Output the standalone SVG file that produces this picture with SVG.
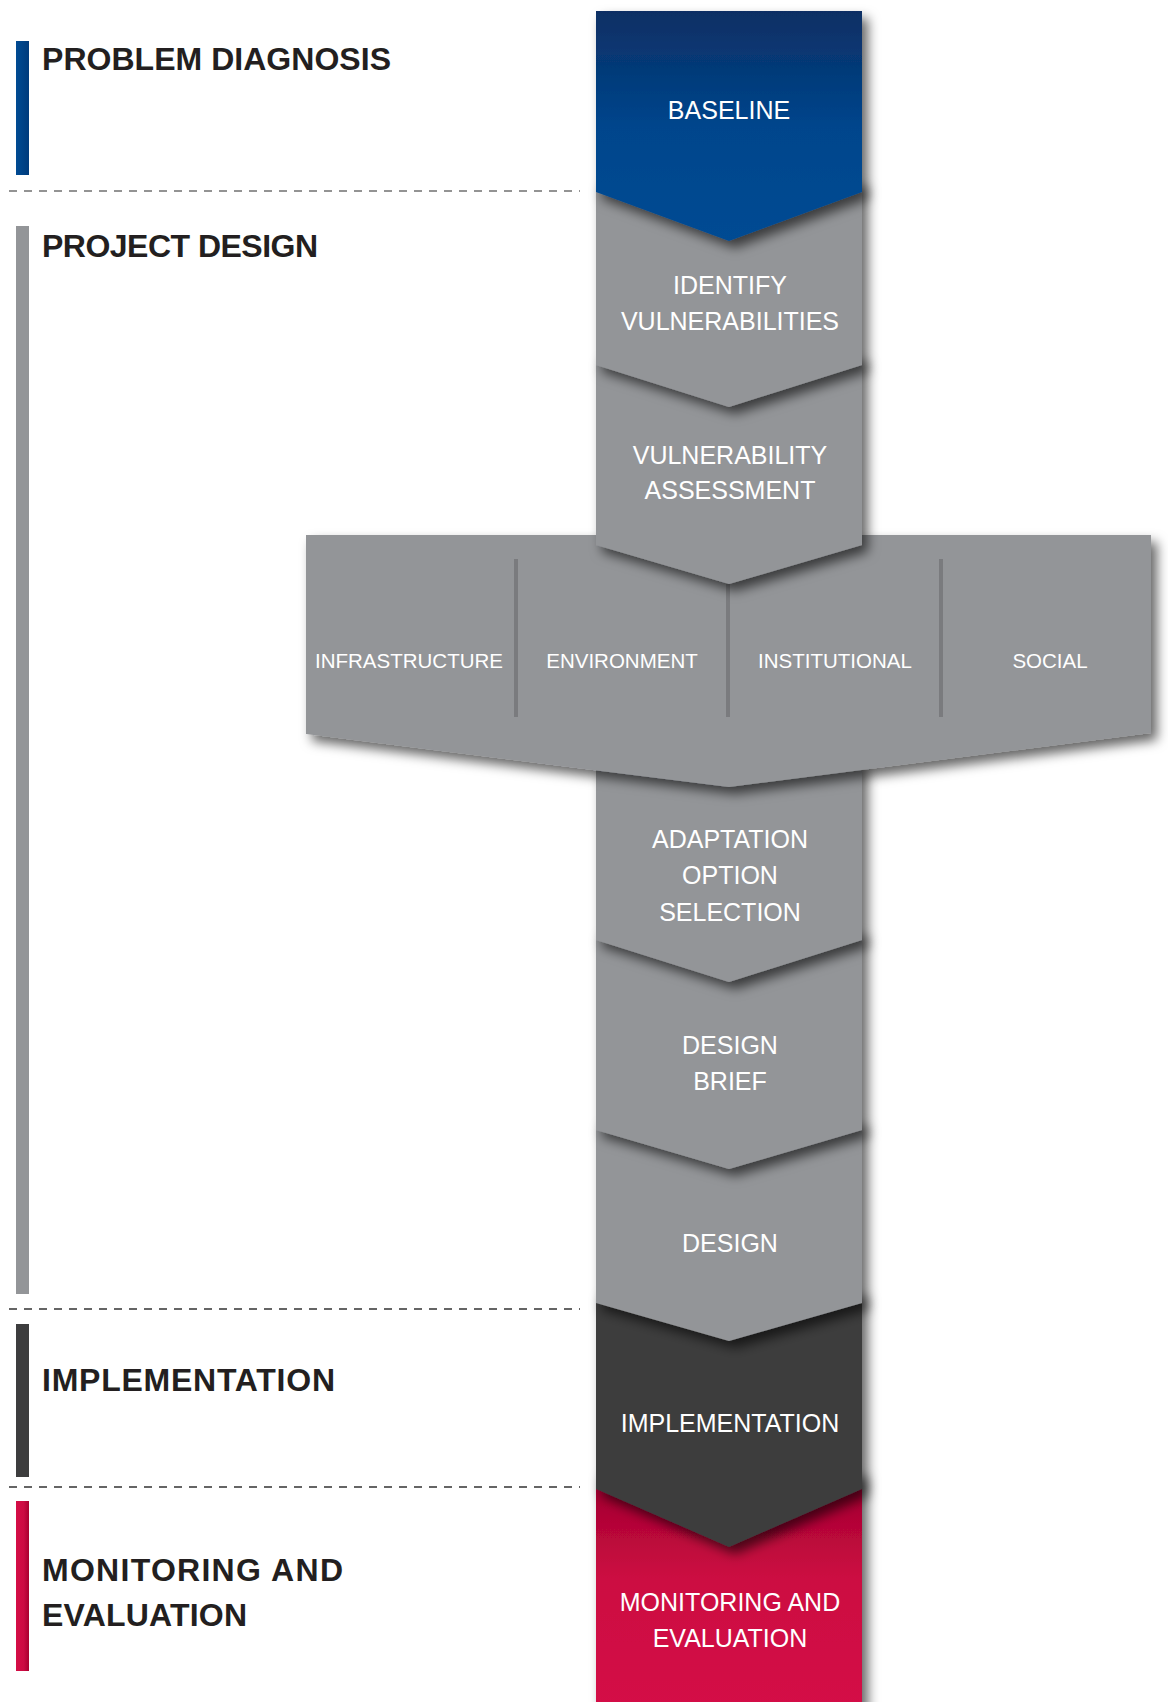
<svg xmlns="http://www.w3.org/2000/svg" width="1168" height="1702" viewBox="0 0 1168 1702">
  <defs>
    <linearGradient id="gBlue" x1="0" y1="0" x2="0" y2="1">
      <stop offset="0" stop-color="#0b2f64"/>
      <stop offset="0.5" stop-color="#00458c"/>
      <stop offset="1" stop-color="#004b93"/>
    </linearGradient>
    <linearGradient id="gRed" x1="0" y1="0" x2="0" y2="1">
      <stop offset="0" stop-color="#9c002c"/>
      <stop offset="0.45" stop-color="#cc0b42"/>
      <stop offset="1" stop-color="#d40d46"/>
    </linearGradient>
    <linearGradient id="gBarBlue" x1="0" y1="0" x2="1" y2="0">
      <stop offset="0" stop-color="#004b93"/>
      <stop offset="1" stop-color="#003b7c"/>
    </linearGradient>
    <linearGradient id="gBarRed" x1="0" y1="0" x2="1" y2="0">
      <stop offset="0" stop-color="#d40d46"/>
      <stop offset="0.6" stop-color="#cc0b42"/>
      <stop offset="1" stop-color="#a8002f"/>
    </linearGradient>
    <filter id="sh" x="-10%" y="-10%" width="130%" height="140%">
      <feDropShadow dx="6" dy="7" stdDeviation="6" flood-color="#000" flood-opacity="0.6"/>
    </filter>
  </defs>
  <style>
    .head { font-family: "Liberation Sans", Arial, sans-serif; font-weight: bold; font-size: 32px; fill: #231f20; }
    .lbl { font-family: "Liberation Sans", Arial, sans-serif; font-size: 25px; fill: #ffffff; text-anchor: middle; }
    .sub { font-family: "Liberation Sans", Arial, sans-serif; font-size: 20.5px; fill: #ffffff; text-anchor: middle; }
    .gray { fill: #939598; }
    .dark { fill: #3d3d3e; }
    .sep { stroke: #7a7b7e; stroke-width: 4; }
    .dash1 { stroke: #707070; stroke-width: 1.5; stroke-dasharray: 8 7; fill: none; }
    .dash2 { stroke: #333333; stroke-width: 1.5; stroke-dasharray: 8 7; fill: none; }
  </style>
  <rect x="0" y="0" width="1168" height="1702" fill="#ffffff"/>

  <!-- Phase headings -->
  <g id="phase-problem-diagnosis">
    <rect x="16" y="41" width="13" height="134" fill="url(#gBarBlue)"/>
    <text class="head" x="42" y="70" textLength="349">PROBLEM DIAGNOSIS</text>
  </g>
  <g id="phase-project-design">
    <rect x="16" y="226" width="13" height="1068" fill="#939598"/>
    <text class="head" x="42" y="257" textLength="276">PROJECT DESIGN</text>
  </g>
  <g id="phase-implementation">
    <rect x="16" y="1324" width="13" height="153" fill="#3d3d3e"/>
    <text class="head" x="42" y="1391" textLength="293">IMPLEMENTATION</text>
  </g>
  <g id="phase-monitoring">
    <rect x="16" y="1501" width="13" height="170" fill="url(#gBarRed)"/>
    <text class="head" x="42" y="1581" textLength="301">MONITORING AND</text>
    <text class="head" x="42" y="1626" textLength="205">EVALUATION</text>
  </g>

  <g id="separators">
    <line class="dash1" x1="9" y1="191" x2="580" y2="191"/>
    <line class="dash2" x1="9" y1="1309" x2="580" y2="1309"/>
    <line class="dash2" x1="9" y1="1487" x2="580" y2="1487"/>
  </g>

  <!-- Column blocks, drawn bottom-up so upper chevrons overlap -->
  <g id="node-monitoring">
    <rect x="596" y="1470" width="266" height="240" fill="url(#gRed)" filter="url(#sh)"/>
    <text class="lbl" x="730" y="1611">MONITORING AND</text>
    <text class="lbl" x="730" y="1647">EVALUATION</text>
  </g>
  <g id="node-implementation">
    <polygon class="dark" points="596,1290 862,1290 862,1489 729,1547 596,1489" filter="url(#sh)"/>
    <text class="lbl" x="730" y="1432">IMPLEMENTATION</text>
  </g>
  <g id="node-design">
    <polygon class="gray" points="596,1120 862,1120 862,1303 729,1341 596,1303" filter="url(#sh)"/>
    <text class="lbl" x="730" y="1252">DESIGN</text>
  </g>
  <g id="node-design-brief">
    <polygon class="gray" points="596,930 862,930 862,1130 729,1169 596,1130" filter="url(#sh)"/>
    <text class="lbl" x="730" y="1054">DESIGN</text>
    <text class="lbl" x="730" y="1090">BRIEF</text>
  </g>
  <g id="node-adaptation">
    <polygon class="gray" points="596,760 862,760 862,940 729,982 596,940" filter="url(#sh)"/>
    <text class="lbl" x="730" y="848">ADAPTATION</text>
    <text class="lbl" x="730" y="884">OPTION</text>
    <text class="lbl" x="730" y="921">SELECTION</text>
  </g>
  <g id="node-categories">
    <polygon class="gray" points="306,535 1151,535 1151,733 729,787 306,734" filter="url(#sh)"/>
    <line class="sep" x1="516" y1="559" x2="516" y2="717"/>
    <line class="sep" x1="728" y1="575" x2="728" y2="717"/>
    <line class="sep" x1="941" y1="559" x2="941" y2="717"/>
    <text class="sub" x="409" y="668">INFRASTRUCTURE</text>
    <text class="sub" x="622" y="668">ENVIRONMENT</text>
    <text class="sub" x="835" y="668">INSTITUTIONAL</text>
    <text class="sub" x="1050" y="668">SOCIAL</text>
  </g>
  <g id="node-vulnerability-assessment">
    <polygon class="gray" points="596,355 862,355 862,545 729,584 596,545" filter="url(#sh)"/>
    <text class="lbl" x="730" y="464">VULNERABILITY</text>
    <text class="lbl" x="730" y="499">ASSESSMENT</text>
  </g>
  <g id="node-identify">
    <polygon class="gray" points="596,180 862,180 862,365 729,407 596,365" filter="url(#sh)"/>
    <text class="lbl" x="730" y="294">IDENTIFY</text>
    <text class="lbl" x="730" y="330">VULNERABILITIES</text>
  </g>
  <g id="node-baseline">
    <polygon points="596,11 862,11 862,192 729,241 596,192" fill="url(#gBlue)" filter="url(#sh)"/>
    <text class="lbl" x="729" y="119">BASELINE</text>
  </g>
</svg>
